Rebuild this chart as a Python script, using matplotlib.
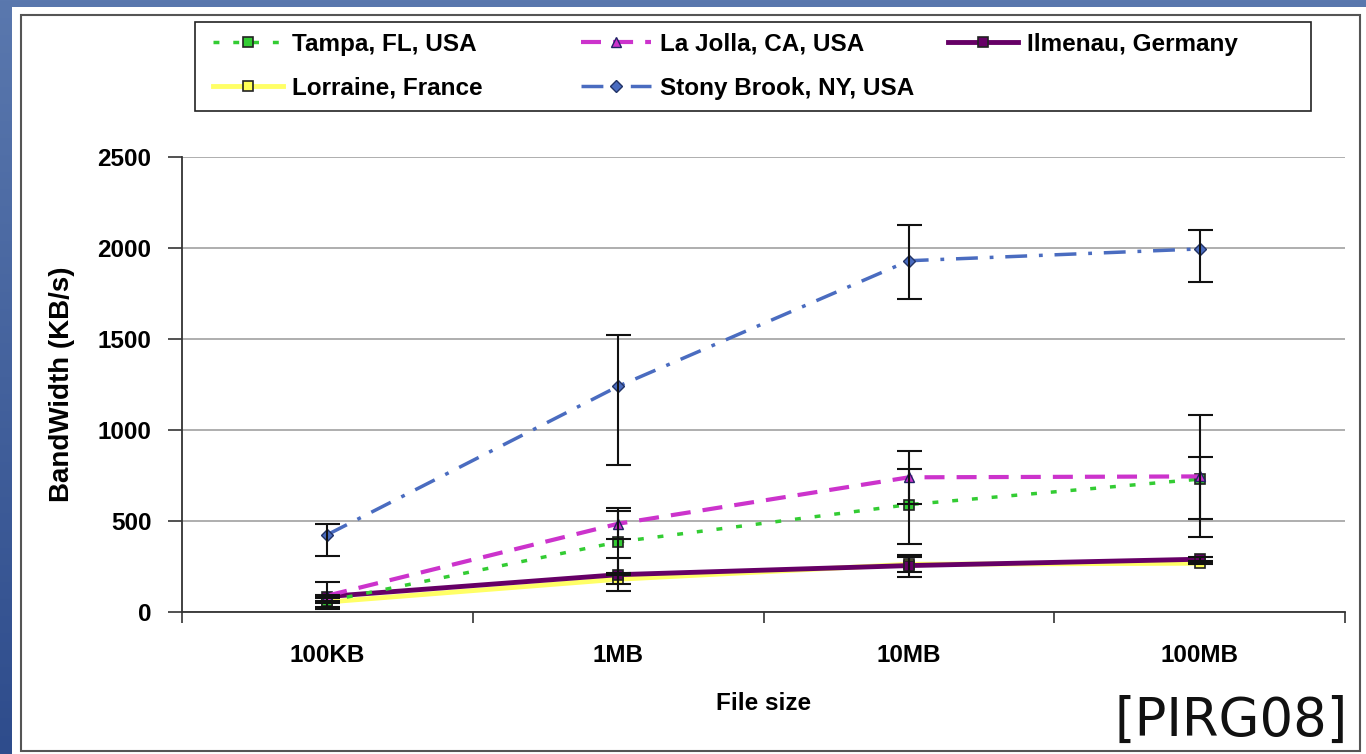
import numpy as np
import matplotlib
matplotlib.use("Agg")
import matplotlib.pyplot as plt
from matplotlib.patches import Rectangle
from matplotlib.colors import LinearSegmentedColormap

# ---------------- data ----------------
categories = ["100KB", "1MB", "10MB", "100MB"]

tampa = [60, 385, 590, 730]
tampa_err_lo = [30, 170, 215, 219]
tampa_err_hi = [30, 170, 196, 122]

lajolla = [90, 485, 740, 745]
lajolla_err_lo = [75, 85, 145, 335]
lajolla_err_hi = [75, 85, 145, 335]

ilmenau = [85, 205, 255, 290]
ilmenau_err_lo = [10, 90, 60, 10]
ilmenau_err_hi = [10, 90, 60, 10]

lorraine = [55, 180, 262, 268]
lorraine_err_lo = [5, 26, 42, 5]
lorraine_err_hi = [5, 26, 42, 5]

stony = [425, 1240, 1930, 1995]
stony_err_lo = [115, 430, 210, 180]
stony_err_hi = [60, 280, 195, 105]

yticks = [0, 500, 1000, 1500, 2000, 2500]

# ---------------- figure ----------------
W, H = 1366, 754
fig = plt.figure(figsize=(W / 100, H / 100), dpi=100)

# background gradient
bg = fig.add_axes([0, 0, 1, 1], zorder=-10)
grad = np.linspace(0, 1, 256).reshape(-1, 1)
cm = LinearSegmentedColormap.from_list("bgblue", ["#5a78ae", "#2e4c8c"])
bg.imshow(grad, aspect="auto", cmap=cm, extent=[0, 1, 0, 1], origin="upper")
bg.set_xlim(0, 1); bg.set_ylim(0, 1)
bg.axis("off")
bg.add_patch(Rectangle((12 / W, 0), 1 - 12 / W, 1 - 7 / H, facecolor="white",
                       edgecolor="none", transform=bg.transAxes))
bg.add_patch(Rectangle((21 / W, 3 / H), (1360 - 21) / W, (751 - 15) / H,
                       facecolor="none", edgecolor="#555555", lw=1.5,
                       transform=bg.transAxes))
# legend frame
bg.add_patch(Rectangle((195 / W, 1 - 111 / H), (1311 - 195) / W, (111 - 22) / H,
                       facecolor="none", edgecolor="#222222", lw=1.2,
                       transform=bg.transAxes))

FONT = "Liberation Sans"

ax = fig.add_axes([182 / W, 1 - 612 / H, (1345 - 182) / W, (612 - 157) / H])
ax.set_facecolor("none")
x = np.arange(len(categories))

# lines
l_lor, = ax.plot(x, lorraine, color="#ffff66", lw=3.5, marker="s", ms=7,
                 mfc="#ffff55", mec="#222222", mew=1.2, zorder=3,
                 label="Lorraine, France")
l_ilm, = ax.plot(x, ilmenau, color="#660066", lw=3.5, marker="s", ms=7,
                 mfc="#660066", mec="#222222", mew=1.2, zorder=4,
                 label="Ilmenau, Germany")
l_tam, = ax.plot(x, tampa, color="#33cc33", lw=2.5, marker="s", ms=7,
                 mfc="#33cc33", mec="#222222", mew=1.2, zorder=5,
                 dashes=(1.7, 4.0), label="Tampa, FL, USA")
l_laj, = ax.plot(x, lajolla, color="#cc33cc", lw=3, marker="^", ms=7,
                 mfc="#cc33cc", mec="#222266", mew=1.0, zorder=6,
                 dashes=(4.8, 2.9), label="La Jolla, CA, USA")
l_sto, = ax.plot(x, stony, color="#4a6cc0", lw=2.5, marker="D", ms=6,
                 mfc="#4a6cc0", mec="#223366", mew=1.0, zorder=7,
                 dashes=(6.3, 3.4, 1.1, 3.4), label="Stony Brook, NY, USA")

# error bars
for vals, lo, hi in [(lorraine, lorraine_err_lo, lorraine_err_hi),
                     (ilmenau, ilmenau_err_lo, ilmenau_err_hi),
                     (tampa, tampa_err_lo, tampa_err_hi),
                     (lajolla, lajolla_err_lo, lajolla_err_hi),
                     (stony, stony_err_lo, stony_err_hi)]:
    ax.errorbar(x, vals, yerr=[lo, hi], fmt="none", ecolor="#111111",
                elinewidth=1.5, capsize=9, capthick=1.5, zorder=8)

ax.set_xlim(-0.5, len(categories) - 0.5)
ax.set_ylim(0, 2500)
ax.set_yticks(yticks)
ax.set_yticklabels([str(v) for v in yticks], fontfamily=FONT,
                   fontweight="bold", fontsize=17.5)
ax.set_xticks(x)
ax.set_xticklabels(categories, fontfamily=FONT, fontweight="bold", fontsize=17.5)
ax.set_xticks(np.arange(-0.5, len(categories), 1.0), minor=True)
ax.tick_params(axis="x", which="major", length=0, pad=23)
ax.tick_params(axis="x", which="minor", length=8, width=1.2, color="#333333",
               direction="out")
ax.tick_params(axis="y", length=10, width=1.2, color="#333333", pad=12,
               direction="out")
ax.grid(axis="y", color="#a8a8a8", lw=1.3)
ax.set_axisbelow(True)
for s in ["top", "right"]:
    ax.spines[s].set_visible(False)
for s in ["left", "bottom"]:
    ax.spines[s].set_color("#333333")
    ax.spines[s].set_linewidth(1.3)

ax.set_ylabel("BandWidth (KB/s)", fontfamily=FONT, fontweight="bold",
              fontsize=20, labelpad=16)
ax.set_xlabel("File size", fontfamily=FONT, fontweight="bold", fontsize=17.5,
              labelpad=18)

# legend: three columns placed manually
cols = [([l_tam, l_lor], 213), ([l_laj, l_sto], 581), ([l_ilm], 948)]
for handles, px in cols:
    fig.legend(handles=handles, loc="upper left",
               bbox_to_anchor=(px / W, 1 - 33 / H), frameon=False,
               borderpad=0, borderaxespad=0, handlelength=2.9,
               handletextpad=0.35, labelspacing=0.85,
               prop={"family": FONT, "weight": "bold", "size": 17.5})

fig.text(1348 / W, 1 - 736 / H, "[PIRG08]", ha="right", va="baseline",
         fontfamily="DejaVu Sans", fontsize=38, color="#111111")

fig.savefig("out.png", dpi=100)
